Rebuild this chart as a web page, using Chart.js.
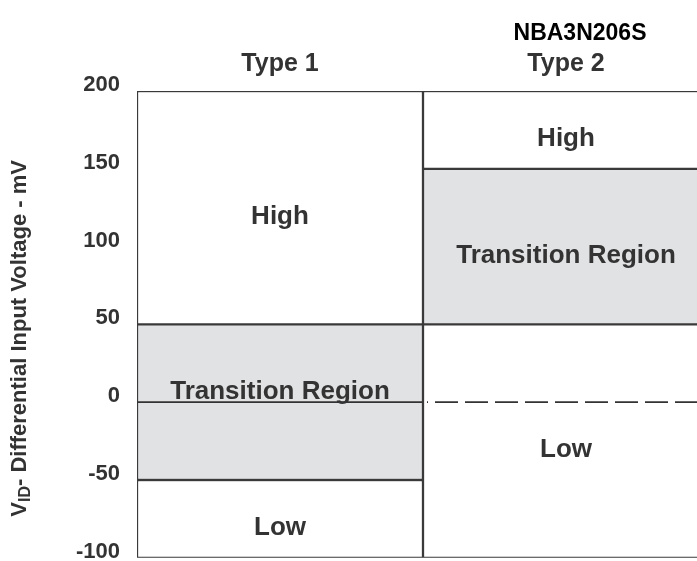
<!DOCTYPE html>
<html>
<head>
<meta charset="utf-8">
<script src="https://cdn.jsdelivr.net/npm/chart.js@4/dist/chart.umd.min.js"></script>
<style>
    html, body { margin: 0; padding: 0; background: #fff; overflow: hidden; }
    /* the Type 2 column runs past the right edge of the picture */
    #wrap { width: 709px; height: 588px; }
</style>
</head>
<body>
<div id="wrap"><canvas id="chart"></canvas></div>
<script>
// Logic-level regions for each receiver type (mV)
const categories = ["Type 1", "Type 2"];
const highRange = [[50, 200], [150, 200]];
const transitionRange = [[-50, 50], [50, 150]];
const lowRange = [[-100, -50], [-100, 50]];
const regionNames = ["High", "Transition Region", "Low"];
const yTicks = [-100, -50, 0, 50, 100, 150, 200];
const chartTitle = "NBA3N206S";

const FONT = "'Liberation Sans', Arial, sans-serif";
const INK = "#333";

// Draws the region names, the 0 mV line, title and the axis title
const annotations = {
    id: "annotations",
    afterDatasetsDraw(chart) {
        const { ctx, chartArea, scales } = chart;
        const y0 = scales.y.getPixelForValue(0);
        const mid = (scales.x.getPixelForValue(0) + scales.x.getPixelForValue(1)) / 2;

        // zero line: solid under type 1, dashed under type 2
        ctx.save();
        ctx.strokeStyle = INK;
        ctx.lineWidth = 1.8;
        ctx.beginPath();
        ctx.moveTo(chartArea.left, y0);
        ctx.lineTo(mid, y0);
        ctx.stroke();
        ctx.setLineDash([23, 7]);
        ctx.lineDashOffset = -8;
        ctx.beginPath();
        ctx.moveTo(mid + 4, y0);
        ctx.lineTo(chartArea.right, y0);
        ctx.stroke();
        ctx.restore();

        // region labels
        ctx.save();
        ctx.font = `bold 26px ${FONT}`;
        ctx.fillStyle = INK;
        ctx.textAlign = "center";
        chart.data.datasets.forEach((ds, i) => {
            chart.getDatasetMeta(i).data.forEach((bar) => {
                const top = Math.min(bar.y, bar.base);
                const bottom = Math.max(bar.y, bar.base);
                const centre = (top + bottom) / 2;
                if (Math.abs(centre - y0) < 20) {
                    // sits on the zero line
                    ctx.textBaseline = "alphabetic";
                    ctx.fillText(ds.label, bar.x, y0 - 3);
                } else {
                    ctx.textBaseline = "middle";
                    ctx.fillText(ds.label, bar.x, centre + 9);
                }
            });
        });
        ctx.restore();

        // title over the type 2 column
        ctx.save();
        ctx.font = `bold 23px ${FONT}`;
        ctx.fillStyle = "#000";
        ctx.textAlign = "center";
        ctx.textBaseline = "middle";
        ctx.fillText(chartTitle, scales.x.getPixelForValue(1) + 14, 34);
        ctx.restore();

        // rotated y-axis title with subscript
        ctx.save();
        ctx.translate(20, (chartArea.top + chartArea.bottom) / 2 + 14);
        ctx.rotate(-Math.PI / 2);
        ctx.fillStyle = INK;
        ctx.textBaseline = "middle";
        const main = "V";
        const sub = "ID";
        const rest = "- Differential Input Voltage - mV";
        const big = `bold 22px ${FONT}`;
        const small = `bold 16px ${FONT}`;
        ctx.font = big;
        const wMain = ctx.measureText(main).width;
        const wRest = ctx.measureText(rest).width;
        ctx.font = small;
        const wSub = ctx.measureText(sub).width;
        let x = -(wMain + wSub + wRest) / 2;
        ctx.font = big;
        ctx.fillText(main, x, 0);
        x += wMain;
        ctx.font = small;
        ctx.fillText(sub, x, 6);
        x += wSub;
        ctx.font = big;
        ctx.fillText(rest, x, 0);
        ctx.restore();
    },
};

const barStyle = (fill) => ({
    backgroundColor: fill,
    borderColor: "#3a3a3a",
    borderWidth: 1.5,
    borderSkipped: false,
    barPercentage: 1,
    categoryPercentage: 1,
    grouped: false,
});

new Chart(document.getElementById("chart"), {
    type: "bar",
    data: {
        labels: categories,
        datasets: [
            { label: regionNames[0], data: highRange, ...barStyle("#ffffff") },
            { label: regionNames[1], data: transitionRange, ...barStyle("#e1e2e4") },
            { label: regionNames[2], data: lowRange, ...barStyle("#ffffff") },
        ],
    },
    options: {
        responsive: true,
        maintainAspectRatio: false,
        animation: false,
        layout: { padding: { top: 50, bottom: 0, left: 0, right: 0 } },
        plugins: {
            legend: { display: false },
            tooltip: { enabled: false },
            title: { display: false },
        },
        scales: {
            x: {
                position: "top",
                grid: { display: false, drawTicks: false },
                border: { display: false },
                ticks: {
                    color: INK,
                    padding: 12,
                    font: { family: FONT, size: 25, weight: "bold" },
                },
                afterFit(scale) {
                    scale.height = 41;
                },
            },
            y: {
                min: -100,
                max: 200,
                grid: { display: false, drawTicks: false },
                border: { display: false },
                afterBuildTicks(scale) {
                    scale.ticks = yTicks.map((v) => ({ value: v }));
                },
                ticks: {
                    color: INK,
                    padding: 17,
                    labelOffset: -6,
                    font: { family: FONT, size: 22, weight: "bold" },
                },
                afterFit(scale) {
                    scale.width = 137;
                },
            },
        },
    },
    plugins: [annotations],
});
</script>
</body>
</html>
